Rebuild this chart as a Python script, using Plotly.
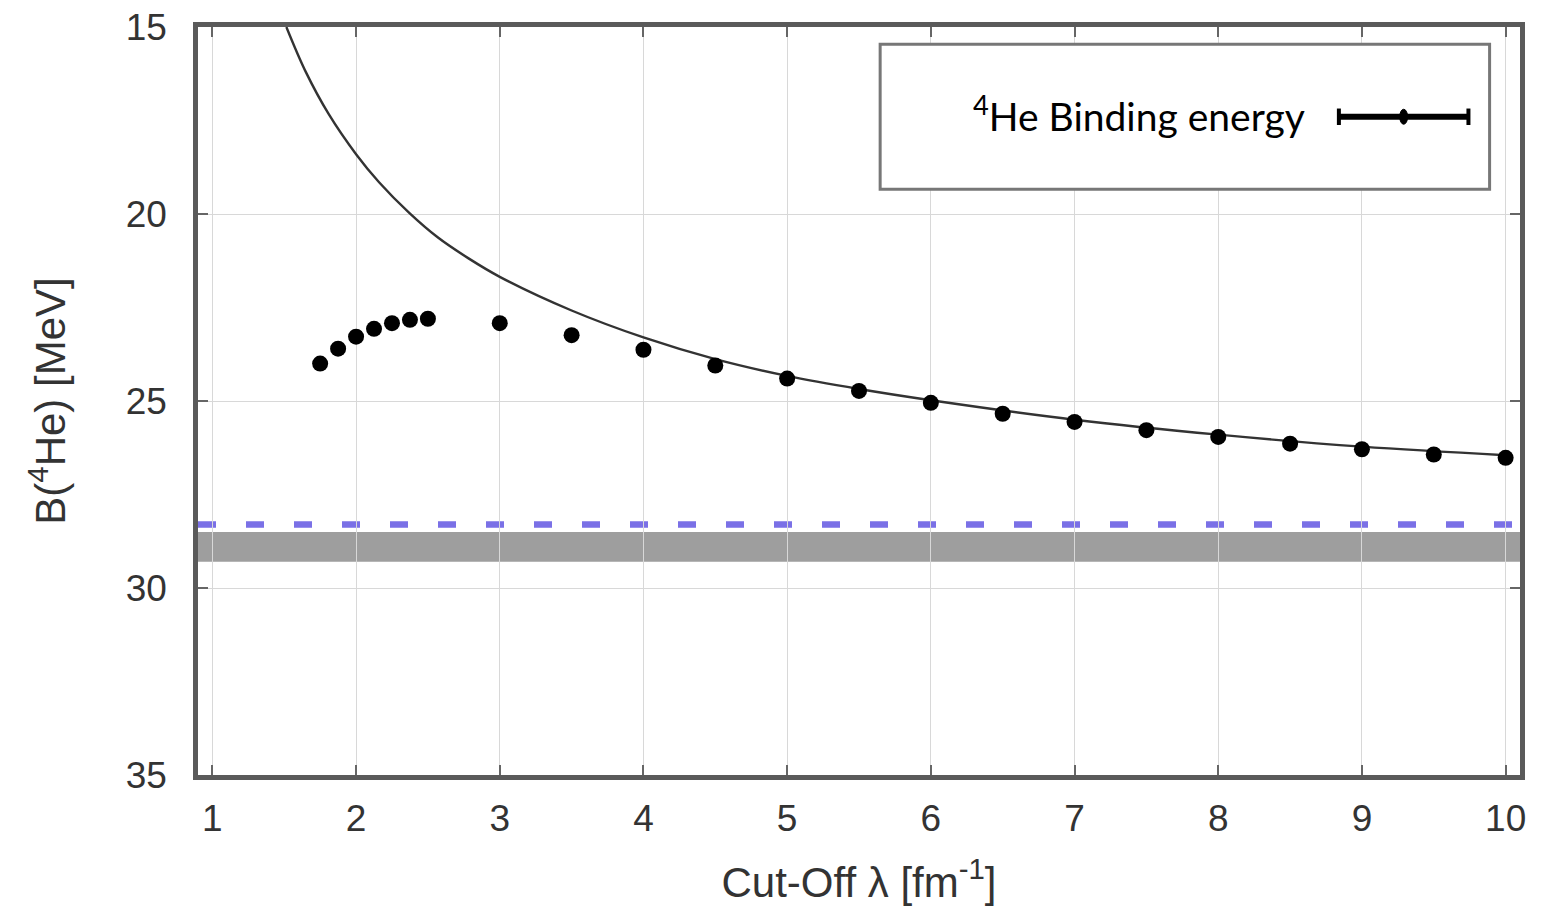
import plotly.graph_objects as go

# ---- data ----
cutoff = [1.75, 1.875, 2.0, 2.125, 2.25, 2.375, 2.5, 3.0, 3.5, 4.0, 4.5, 5.0, 5.5,
          6.0, 6.5, 7.0, 7.5, 8.0, 8.5, 9.0, 9.5, 10.0]
binding = [24.00, 23.60, 23.28, 23.07, 22.92, 22.83, 22.80, 22.92, 23.24, 23.63, 24.05,
           24.40, 24.73, 25.05, 25.34, 25.56, 25.78, 25.96, 26.14, 26.29, 26.43, 26.52]

fit_x = [1.515, 1.65, 1.81, 2.0, 2.16, 2.37, 2.57, 2.78, 3.0, 3.5, 4.0, 4.5, 5.0, 5.5,
         6.0, 7.0, 8.0, 9.0, 10.0]
fit_y = [15.0, 16.2, 17.33, 18.4, 19.15, 19.97, 20.63, 21.18, 21.68, 22.58, 23.3, 23.88,
         24.33, 24.68, 24.98, 25.5, 25.9, 26.22, 26.45]

exp_value = 28.3                    # blue dashed line
band_low, band_high = 28.5, 29.3    # grey band

x_ticks = [1, 2, 3, 4, 5, 6, 7, 8, 9, 10]
y_ticks = [15, 20, 25, 30, 35]

legend_label = "<sup>4</sup>He Binding energy"

fig = go.Figure()

fig.add_trace(go.Scatter(x=fit_x, y=fit_y, mode="lines",
                         line=dict(color="#333333", width=2.4, shape="spline", smoothing=1.0),
                         showlegend=False, hoverinfo="skip"))
fig.add_trace(go.Scatter(x=cutoff, y=binding, mode="markers",
                         marker=dict(color="black", size=16), showlegend=False))

# grey band and experimental line
fig.add_shape(type="rect", xref="paper", yref="y", x0=0, x1=1, y0=band_low, y1=band_high,
              fillcolor="#9e9e9e", line=dict(width=0), layer="below")
fig.add_shape(type="line", xref="paper", yref="y", x0=0, x1=1, y0=exp_value, y1=exp_value,
              line=dict(color="#7a70e6", width=6.5, dash="18px,30px"), layer="below")

# legend box (drawn)
fig.add_shape(type="rect", xref="paper", yref="paper", x0=0.516, x1=0.977, y0=0.783, y1=0.977,
              line=dict(color="#777777", width=3), fillcolor="white")
fig.add_annotation(xref="paper", yref="paper", x=0.839, y=0.884, xanchor="right", yanchor="middle",
                   text=legend_label, showarrow=False,
                   font=dict(family="Lato", size=39, color="black"))
fig.add_shape(type="line", xref="paper", yref="paper", x0=0.863, x1=0.961, y0=0.880, y1=0.880,
              line=dict(color="black", width=6))
fig.add_shape(type="line", xref="paper", yref="paper", x0=0.863, x1=0.863, y0=0.869, y1=0.891,
              line=dict(color="black", width=4))
fig.add_shape(type="line", xref="paper", yref="paper", x0=0.961, x1=0.961, y0=0.869, y1=0.891,
              line=dict(color="black", width=4))
fig.add_shape(type="circle", xref="paper", yref="paper", x0=0.909, x1=0.915, y0=0.870, y1=0.890,
              line=dict(color="black", width=1), fillcolor="black")

tick_font = dict(family="Liberation Sans", size=37, color="#333333")
title_font = dict(family="Liberation Sans", size=42, color="#333333")

fig.update_layout(
    width=1527, height=898,
    margin=dict(l=190, r=15, t=19, b=131, autoexpand=False),
    paper_bgcolor="white", plot_bgcolor="white",
    showlegend=False,
    xaxis=dict(range=[0.9, 10.1], tickvals=x_ticks, ticktext=[str(v) for v in x_ticks],
               automargin=False,
               showgrid=True, gridcolor="#d8d8d8", gridwidth=1.2,
               showline=True, linecolor="#5a5a5a", linewidth=4.5, mirror="ticks",
               ticks="inside", ticklen=10, tickwidth=1.5, tickcolor="#666666",
               tickfont=tick_font, ticklabelstandoff=7, ticklabeloverflow="allow", zeroline=False,
               title=dict(text="Cut-Off λ [fm<sup>-1</sup>]", font=title_font, standoff=36)),
    yaxis=dict(range=[35, 15], tickvals=y_ticks, ticktext=[str(v) for v in y_ticks],
               automargin=False,
               showgrid=True, gridcolor="#d8d8d8", gridwidth=1.2,
               showline=True, linecolor="#5a5a5a", linewidth=4.5, mirror="ticks",
               ticks="inside", ticklen=10, tickwidth=1.5, tickcolor="#666666",
               tickfont=tick_font, ticklabelstandoff=19, ticklabeloverflow="allow", zeroline=False,
               title=dict(text="B(<sup>4</sup>He) [MeV]", font=title_font, standoff=48)),
)

fig.write_html("out.html")
